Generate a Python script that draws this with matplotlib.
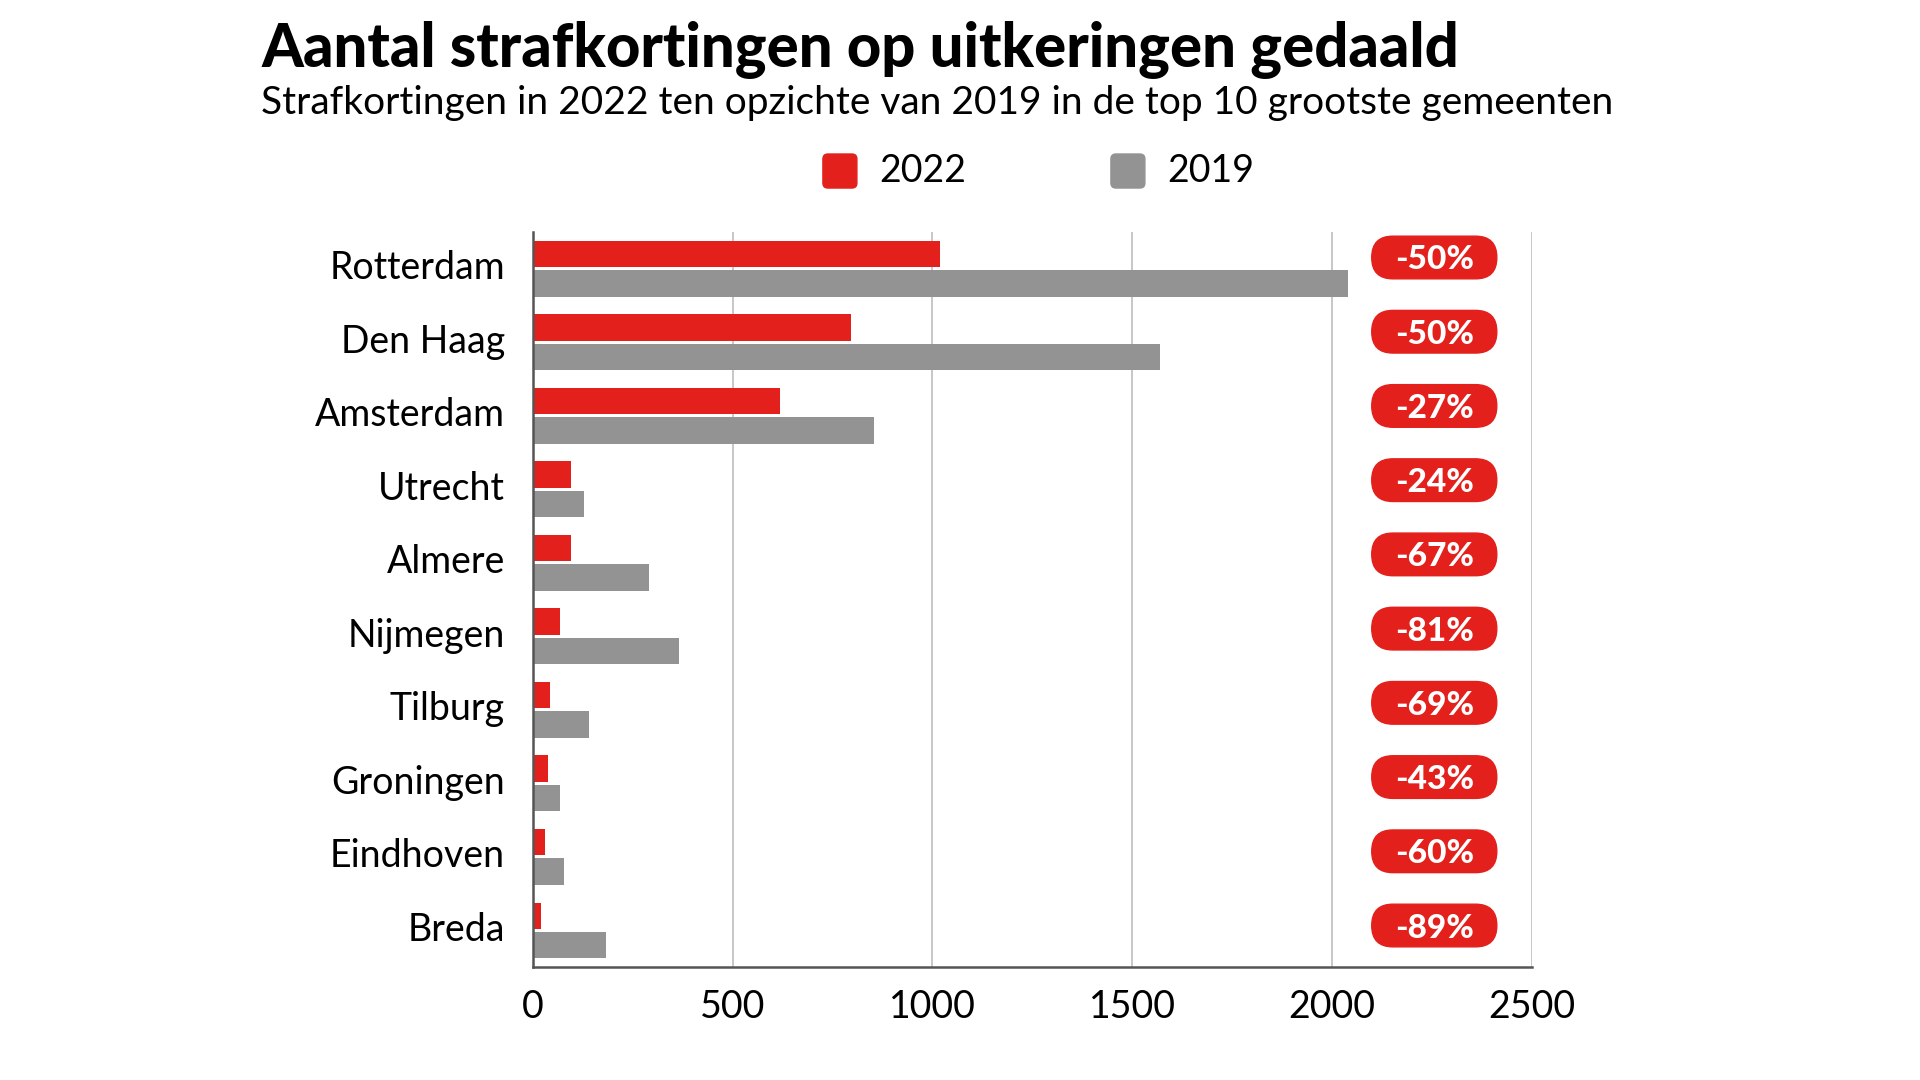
import numpy as np
import matplotlib.pyplot as plt
import matplotlib.transforms as mtransforms
from matplotlib.patches import FancyBboxPatch

gemeenten = ["Rotterdam", "Den Haag", "Amsterdam", "Utrecht", "Almere",
             "Nijmegen", "Tilburg", "Groningen", "Eindhoven", "Breda"]
kortingen_2022 = [1020, 796, 619, 96, 96, 68, 42, 39, 31, 20]
kortingen_2019 = [2040, 1570, 853, 127, 292, 367, 140, 68, 77, 183]
verandering = ["-50%", "-50%", "-27%", "-24%", "-67%",
               "-81%", "-69%", "-43%", "-60%", "-89%"]
x_ticks = [0, 500, 1000, 1500, 2000, 2500]

ROOD = "#e3201b"
GRIJS = "#939393"

plt.rcParams['font.family'] = ['Lato', 'DejaVu Sans']

fig = plt.figure(figsize=(19.2, 10.8), dpi=100)
ax = fig.add_axes([0.2775, 0.1044, 0.5203, 0.6808])

y = np.arange(len(gemeenten))
ax.barh(y - 0.2, kortingen_2022, height=0.36, color=ROOD, zorder=2)
ax.barh(y + 0.2, kortingen_2019, height=0.36, color=GRIJS, zorder=2)

ax.set_xlim(0, 2500)
ax.set_ylim(len(gemeenten) - 0.5, -0.5)
ax.set_xticks(x_ticks)
ax.set_xticklabels([str(t) for t in x_ticks])
ax.set_yticks(y)
ax.set_yticklabels(gemeenten)
ax.tick_params(axis='y', length=0, pad=20, labelsize=27)
ax.tick_params(axis='x', length=0, pad=16, labelsize=27)
# namen iets hoger dan het midden van de groep
omhoog = mtransforms.ScaledTranslation(0, 4 / 100, fig.dpi_scale_trans)
for lbl in ax.get_yticklabels():
    lbl.set_transform(lbl.get_transform() + omhoog)
ax.grid(axis='x', color='#bdbdbd', lw=1.2, zorder=0)
ax.set_axisbelow(True)
for s in ['top', 'right']:
    ax.spines[s].set_visible(False)
for s in ['left', 'bottom']:
    ax.spines[s].set_color('#555555')
    ax.spines[s].set_linewidth(1.8)

# rode labels met procentuele daling (iets ruimer verdeeld dan de balken)
pil_x, pil_w, pil_h = 2256, 313, 0.58
for i, pct in enumerate(verandering):
    yc = i * 1.0095 - 0.153
    pil = FancyBboxPatch((pil_x - pil_w / 2, yc - pil_h / 2), pil_w, pil_h,
                         boxstyle="round,pad=0,rounding_size=53",
                         mutation_aspect=0.00545, color=ROOD,
                         clip_on=False, zorder=3)
    ax.add_patch(pil)
    ax.text(pil_x, yc, pct, ha='center', va='center_baseline', color='white',
            fontsize=24, fontweight='black', zorder=4)

# legenda
for x0, kleur, label in [(0.4286, ROOD, "2022"), (0.5786, GRIJS, "2019")]:
    fig.patches.append(FancyBboxPatch((x0, 0.8259), 0.0177, 0.0315,
                                      boxstyle="round,pad=0,rounding_size=0.0026",
                                      mutation_aspect=1.778, color=kleur,
                                      transform=fig.transFigure, figure=fig))
    fig.text(x0 + 0.0292, 0.8417, label, fontsize=27, va='center')

fig.text(0.136, 0.938, "Aantal strafkortingen op uitkeringen gedaald",
         fontsize=43, fontweight='black', va='baseline')
fig.text(0.136, 0.894, "Strafkortingen in 2022 ten opzichte van 2019 in de top 10 grootste gemeenten",
         fontsize=28, va='baseline')

fig.savefig("out.png", dpi=100, facecolor='white')
